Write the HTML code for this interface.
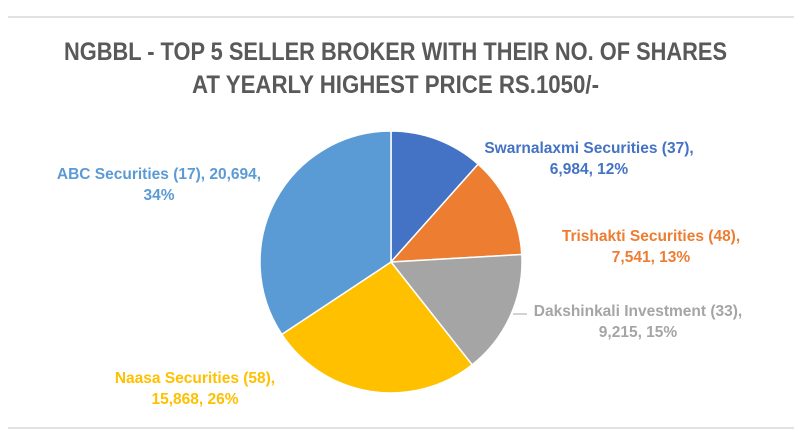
<!DOCTYPE html>
<html><head><meta charset="utf-8"><style>
html,body{margin:0;padding:0;background:#fff;}
svg{display:block;font-family:"Liberation Sans",sans-serif;}
</style></head><body>
<svg width="794" height="433" viewBox="0 0 794 433">
<line x1="8" y1="17" x2="794" y2="17" stroke="#d9d9d9" stroke-width="1.5"/>
<line x1="8" y1="428" x2="794" y2="428" stroke="#d9d9d9" stroke-width="1.5"/>
<g fill="#595959" font-weight="bold" font-size="25">
<text x="64" y="60" textLength="663" lengthAdjust="spacingAndGlyphs">NGBBL - TOP 5 SELLER BROKER WITH THEIR NO. OF SHARES</text>
<text x="192" y="93" textLength="407" lengthAdjust="spacingAndGlyphs">AT YEARLY HIGHEST PRICE RS.1050/-</text>
</g>
<g id="slices"></g>
<g id="labels" font-weight="bold" font-size="15.5"></g>
</svg>
<script>
const categories=["Swarnalaxmi Securities (37)","Trishakti Securities (48)","Dakshinkali Investment (33)","Naasa Securities (58)","ABC Securities (17)"];
const values=[6984,7541,9215,15868,20694];
const percents=["12%","13%","15%","26%","34%"];
const colors=["#4472C4","#ED7D31","#A5A5A5","#FFC000","#5B9BD5"];
const labelColors=["#4472C4","#ED7D31","#A5A5A5","#FFC000","#5B9BD5"];
const cx=391,cy=262,r=131;
const NS="http://www.w3.org/2000/svg";
const total=values.reduce((a,b)=>a+b,0);
const sg=document.getElementById('slices');
let a0=0;
function pt(a,rr){return [cx+rr*Math.sin(a),cy-rr*Math.cos(a)];}
values.forEach((v,i)=>{
  const a1=a0+v/total*2*Math.PI;
  const p0=pt(a0,r),p1=pt(a1,r);
  const large=(a1-a0)>Math.PI?1:0;
  const p=document.createElementNS(NS,'path');
  p.setAttribute('d',`M${cx},${cy}L${p0[0]},${p0[1]}A${r},${r} 0 ${large} 1 ${p1[0]},${p1[1]}Z`);
  p.setAttribute('fill',colors[i]);
  p.setAttribute('stroke','#fff');
  p.setAttribute('stroke-width','1.5');
  
  
  sg.appendChild(p);
  a0=a1;
});
const lx=[589,651,638,195,159];
const ly=[153,241,316,383,179];
const splitAfterValue=[false,false,false,false,true];
const lg=document.getElementById('labels');
values.forEach((v,i)=>{
  const t=document.createElementNS(NS,'text');
  t.setAttribute('text-anchor','middle');
  t.setAttribute('fill',labelColors[i]);
  
  
  const vs=v.toLocaleString('en-US');
  const l1=splitAfterValue[i]?categories[i]+", "+vs+",":categories[i]+",";
  const l2=splitAfterValue[i]?percents[i]:vs+", "+percents[i];
  const s1=document.createElementNS(NS,'tspan');
  s1.setAttribute('x',lx[i]);s1.setAttribute('y',ly[i]);
  s1.textContent=l1;
  const s2=document.createElementNS(NS,'tspan');
  s2.setAttribute('x',lx[i]);s2.setAttribute('y',ly[i]+21);
  s2.textContent=l2;
  t.appendChild(s1);t.appendChild(s2);
  lg.appendChild(t);
});
const ld=document.createElementNS(NS,'polyline');
ld.setAttribute('points','513,314 527,314');
ld.setAttribute('stroke','#A5A5A5');ld.setAttribute('fill','none');


lg.appendChild(ld);
</script>
</body></html>
